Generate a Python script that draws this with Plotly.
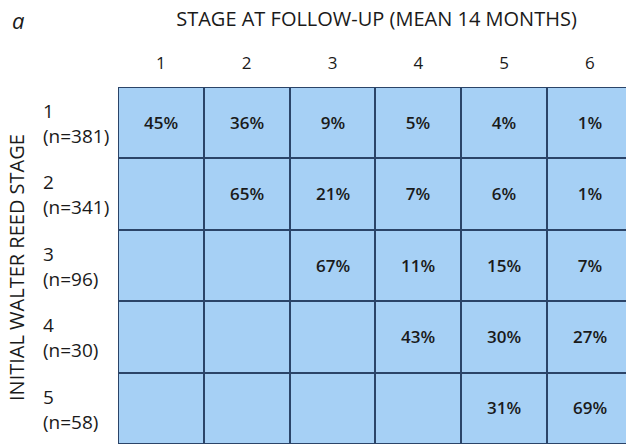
import plotly.graph_objects as go

follow_up_stages = ["1", "2", "3", "4", "5", "6"]
initial_stages = ["1", "2", "3", "4", "5"]
initial_counts = [381, 341, 96, 30, 58]

row1 = [45, 36, 9, 5, 4, 1]
row2 = [None, 65, 21, 7, 6, 1]
row3 = [None, None, 67, 11, 15, 7]
row4 = [None, None, None, 43, 30, 27]
row5 = [None, None, None, None, 31, 69]
percent_rows = [row1, row2, row3, row4, row5]

W, H = 626, 444
ML, MT = 118, 87
PW, PH = W - ML, 357
FONT = "Open Sans"
INK = "#1a1a1a"


def px_x(px):
    return (px - ML) / PW


def px_y(py):
    return 1 - (py - MT) / PH


z = [[1 for _ in follow_up_stages] for _ in initial_stages]
text = [["" if v is None else f"{v}%" for v in r] for r in percent_rows]

fig = go.Figure()
fig.add_trace(go.Heatmap(
    x=list(range(len(follow_up_stages))),
    y=list(range(len(initial_stages))),
    z=z,
    text=text,
    texttemplate="%{text}",
    textfont=dict(family=FONT, size=17, color=INK, weight=600),
    colorscale=[[0, "#a6d0f5"], [1, "#a6d0f5"]],
    showscale=False,
    xgap=2, ygap=2,
    hoverinfo="skip",
))

for i, (s, n) in enumerate(zip(initial_stages, initial_counts)):
    fig.add_annotation(
        x=px_x(41), xref="paper", xanchor="left",
        y=i + 0.01, yref="y", yanchor="middle",
        text=f"{s}<br>(n={n})", align="left", showarrow=False,
        font=dict(family=FONT, size=19, color=INK),
    )

fig.add_annotation(
    x=px_x(16), xref="paper", xanchor="center",
    y=px_y(268), yref="paper", yanchor="middle",
    text="INITIAL WALTER REED STAGE", textangle=-90, showarrow=False,
    font=dict(family=FONT, size=20, color=INK),
)
fig.add_annotation(
    x=px_x(18), xref="paper", xanchor="center",
    y=px_y(20), yref="paper", yanchor="middle",
    text="<i>a</i>", showarrow=False,
    font=dict(family=FONT, size=22, color=INK),
)

fig.update_layout(
    width=W, height=H,
    margin=dict(l=ML, r=0, t=MT, b=0, pad=0),
    paper_bgcolor="white",
    plot_bgcolor="#2b4468",
    title=dict(
        text="STAGE AT FOLLOW-UP (MEAN 14 MONTHS)",
        x=376.5 / W, xanchor="center", xref="container",
        y=1 - 19 / H, yanchor="middle", yref="container",
        font=dict(family=FONT, size=20, color=INK),
    ),
    xaxis=dict(
        side="top", tickvals=list(range(len(follow_up_stages))),
        ticktext=follow_up_stages, range=[-0.5, 5.42],
        showgrid=False, zeroline=False, ticks="", ticklabelstandoff=14,
        tickfont=dict(family=FONT, size=17, color=INK),
    ),
    yaxis=dict(
        range=[4.5, -0.5], showticklabels=False, showgrid=False,
        zeroline=False, ticks="",
    ),
)

fig.write_html(
    "out.html",
    config={"displayModeBar": False},
    post_script="document.body.style.margin='0';document.body.style.overflow='hidden';",
)
